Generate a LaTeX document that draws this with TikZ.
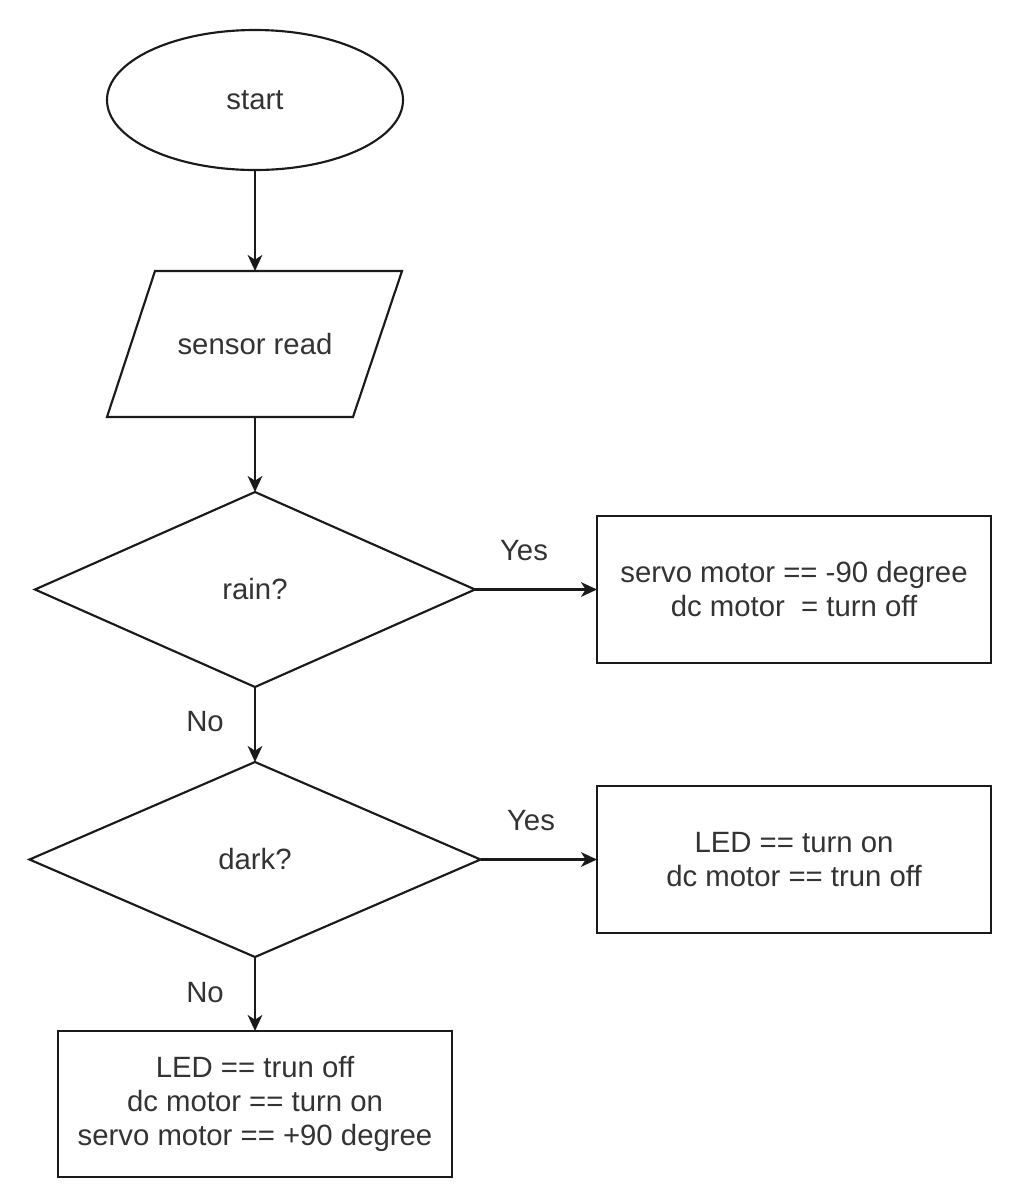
\documentclass[tikz,border=0pt]{standalone}
\usepackage{fontspec}
\setmainfont{Liberation Sans}
\usetikzlibrary{shapes.geometric,arrows.meta}
\definecolor{txt}{HTML}{333333}
\definecolor{ln}{HTML}{1A1A1A}
\begin{document}
\begin{tikzpicture}[x=0.75pt,y=-0.75pt,
  lbl/.style={font=\fontsize{22}{25.5}\selectfont, text=txt, align=center, inner sep=0pt},
  shp/.style={draw=ln, line width=1.6pt},
  term/.style={shp, ellipse, minimum width=222pt, minimum height=105pt, inner sep=0pt, outer sep=0pt, lbl},
  dec/.style={shp, diamond, inner sep=0pt, outer sep=0pt, lbl},
  proc/.style={shp, rectangle, minimum width=295.5pt, minimum height=110.25pt, inner sep=0pt, outer sep=0pt, lbl},
  conn/.style={draw=ln, line width=1.6pt, -{Stealth[length=12pt,width=11pt,inset=3.5pt]}}
]
\useasboundingbox[fill=white] (0,0) rectangle (1017,1204);

\node[term] (start) at (255,100) {start};

\draw[shp] (155,271) -- (402,271) -- (353,417) -- (107,417) -- cycle;
\node[lbl] (read) at (255,344) {sensor read};
\coordinate (readtop) at (255,271);
\coordinate (readbot) at (255,417);

\node[dec, minimum width=330pt, minimum height=146.25pt] (rain) at (255,589.5) {rain?};
\node[proc] (act1) at (794,589.5) {servo motor == -90 degree\\dc motor\ \ = turn off};

\node[dec, minimum width=338.25pt, minimum height=146.25pt] (dark) at (255,859.5) {dark?};
\node[proc] (act2) at (794,859.5) {LED == turn on\\dc motor == trun off};

\node[proc, minimum height=109.5pt] (act3) at (255,1104) {LED == trun off\\dc motor == turn on\\servo motor == +90 degree};

\draw[conn] (start.south) -- (readtop);
\draw[conn] (readbot) -- (rain.north);
\draw[conn] (rain.east) -- (act1.west);
\draw[conn] (rain.south) -- (dark.north);
\draw[conn] (dark.east) -- (act2.west);
\draw[conn] (dark.south) -- (act3.north);

\node[lbl] (yes1) at (524,551) {Yes};
\node[lbl] (no1) at (205,722) {No};
\node[lbl] (yes2) at (531,821) {Yes};
\node[lbl] (no2) at (205,993) {No};
\end{tikzpicture}
\end{document}
